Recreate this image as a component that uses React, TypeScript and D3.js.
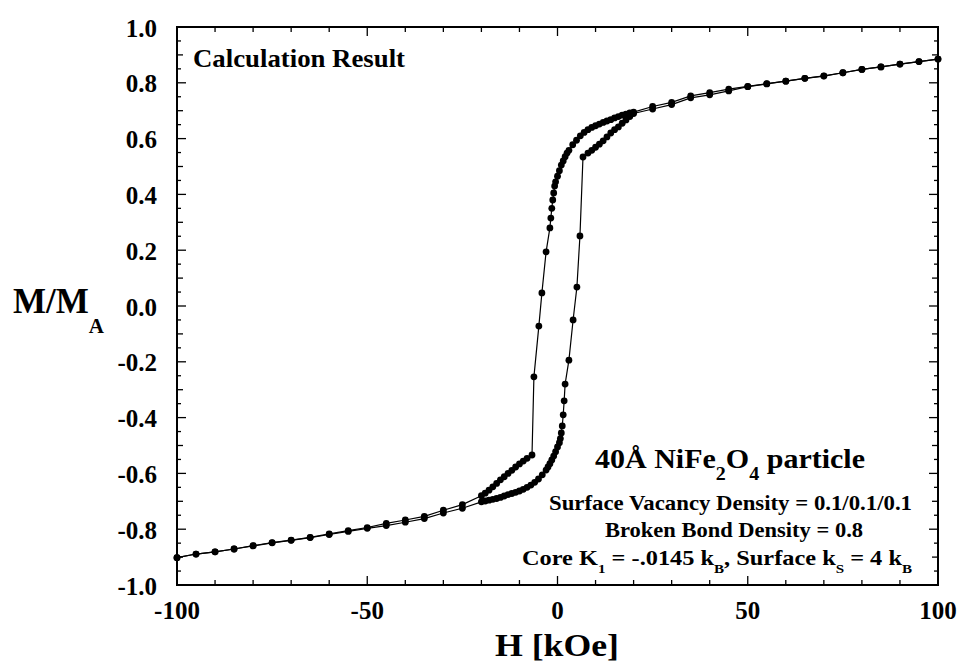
import React from 'react';
import * as d3 from 'd3';

// Descending branch (from +100 kOe to -100 kOe)
const descH = [
  100, 95, 90, 85, 80, 75, 70, 65, 60, 55, 50, 45, 40, 35, 30, 25,
  20, 19, 18, 17, 16, 15, 14, 13, 12, 11, 10, 9, 8, 7, 6, 5, 4, 3,
  2.5, 2, 1.5, 1, 0.5, 0, -0.5, -0.75, -1, -1.25, -1.5, -1.75, -2,
  -3, -4.1, -4.9, -6.2,
  -6.7, -8, -9, -10, -11, -12, -13, -14, -15, -16, -17, -18, -19, -20,
  -25, -30, -35, -40, -45, -50, -55, -60, -65, -70, -75, -80, -85, -90, -95, -100,
];
const descM = [
  0.885, 0.876, 0.867, 0.857, 0.848, 0.836, 0.825, 0.816, 0.806, 0.797, 0.787, 0.777, 0.765, 0.753, 0.73, 0.715,
  0.695, 0.692, 0.688, 0.684, 0.679, 0.674, 0.668, 0.663, 0.658, 0.652, 0.646, 0.64, 0.632, 0.622, 0.61, 0.594, 0.578, 0.558,
  0.548, 0.535, 0.52, 0.505, 0.485, 0.465, 0.445, 0.43, 0.405, 0.38, 0.35, 0.315, 0.28,
  0.194, 0.047, -0.072, -0.254,
  -0.534, -0.546, -0.556, -0.566, -0.577, -0.589, -0.6, -0.612, -0.623, -0.636, -0.648, -0.66, -0.671, -0.68,
  -0.712, -0.732, -0.754, -0.767, -0.779, -0.794, -0.805, -0.817, -0.829, -0.839, -0.848, -0.859, -0.871, -0.881, -0.889, -0.902,
];

// Ascending branch (from -100 kOe to +100 kOe)
const ascH = [
  -100, -95, -90, -85, -80, -75, -70, -65, -60, -55, -50, -45, -40, -35, -30, -25,
  -20, -19, -18, -17, -16, -15, -14, -13, -12, -11, -10, -9, -8, -7, -6, -5, -4, -3,
  -2.5, -2, -1.5, -1, -0.5, 0, 0.5, 0.75, 1, 1.25, 1.5, 1.75, 2,
  3, 4.1, 5.1, 5.9,
  6.7, 8, 9, 10, 11, 12, 13, 14, 15, 16, 17, 18, 19, 20,
  25, 30, 35, 40, 45, 50, 55, 60, 65, 70, 75, 80, 85, 90, 95, 100,
];
const ascM = [
  -0.902, -0.889, -0.881, -0.871, -0.86, -0.849, -0.84, -0.83, -0.819, -0.808, -0.797, -0.787, -0.775, -0.762, -0.742, -0.725,
  -0.702, -0.699, -0.696, -0.693, -0.69, -0.686, -0.681, -0.676, -0.672, -0.668, -0.663, -0.657, -0.65, -0.642, -0.632, -0.62, -0.605, -0.588,
  -0.577, -0.565, -0.552, -0.538, -0.522, -0.505, -0.49, -0.475, -0.455, -0.43, -0.39, -0.34, -0.28,
  -0.194, -0.05, 0.068, 0.251,
  0.534, 0.548, 0.558, 0.569, 0.58, 0.592, 0.606, 0.62, 0.632, 0.642, 0.655, 0.667, 0.679, 0.69,
  0.706, 0.722, 0.746, 0.757, 0.771, 0.786, 0.796, 0.806, 0.816, 0.824, 0.836, 0.848, 0.857, 0.867, 0.876, 0.885,
];

const xTickValues = [-100, -50, 0, 50, 100];
const xTickLabels = ['-100', '-50', '0', '50', '100'];
const yTickValues = [-1, -0.8, -0.6, -0.4, -0.2, 0, 0.2, 0.4, 0.6, 0.8, 1];
const yTickLabels = ['-1.0', '-0.8', '-0.6', '-0.4', '-0.2', '0.0', '0.2', '0.4', '0.6', '0.8', '1.0'];

const FONT = '"Liberation Serif", "Times New Roman", serif';

export default function App() {
  const W = 961;
  const H = 664;
  const left = 177, right = 938, top = 27, bottom = 585;
  const x = d3.scaleLinear().domain([-100, 100]).range([left, right]);
  const y = d3.scaleLinear().domain([-1, 1]).range([bottom, top]);
  const line = d3.line<[number, number]>().x((d) => x(d[0])).y((d) => y(d[1]));
  const desc: [number, number][] = descH.map((h, i) => [h, descM[i]]);
  const asc: [number, number][] = ascH.map((h, i) => [h, ascM[i]]);

  const xMinor = d3.range(-100, 100.001, 10);
  const yMinor = d3.range(-20, 21, 1).map((k) => k * 0.05);

  const xTickLen = (v: number) => (Math.abs(v % 50) < 1e-6 ? 9 : 5);
  const yTickLen = (v: number) => {
    const k = Math.round(v * 20);
    if (k % 4 === 0) return 9;
    if (k % 2 === 0) return 6;
    return 4;
  };

  return (
    <svg width={W} height={H} style={{ position: 'absolute', left: 0, top: 0, background: '#fff' }}
      fontFamily={FONT} fontWeight="bold">
      <rect x={0} y={0} width={W} height={H} fill="#fff" />
      {/* ticks */}
      <g stroke="#000" strokeWidth={1.3}>
        {xMinor.map((v, i) => (
          <g key={'xt' + i}>
            <line x1={x(v)} x2={x(v)} y1={bottom} y2={bottom - xTickLen(v)} />
            <line x1={x(v)} x2={x(v)} y1={top} y2={top + xTickLen(v)} />
          </g>
        ))}
        {yMinor.map((v, i) => (
          <g key={'yt' + i}>
            <line x1={left} x2={left + yTickLen(v)} y1={y(v)} y2={y(v)} />
            <line x1={right} x2={right - yTickLen(v)} y1={y(v)} y2={y(v)} />
          </g>
        ))}
      </g>
      {/* frame */}
      <rect x={left} y={top} width={right - left} height={bottom - top} fill="none" stroke="#000" strokeWidth={2} />

      {/* tick labels */}
      {xTickValues.map((v, i) => (
        <text key={'xl' + i} x={x(v)} y={619} textAnchor="middle" fontSize={25}>{xTickLabels[i]}</text>
      ))}
      {yTickValues.map((v, i) => (
        <text key={'yl' + i} x={157} y={y(v) + 9.5} textAnchor="end" fontSize={25}>{yTickLabels[i]}</text>
      ))}

      {/* axis titles */}
      <text x={557} y={656} textAnchor="middle" fontSize={32} textLength={124} lengthAdjust="spacingAndGlyphs">H [kOe]</text>
      <text x={13} y={313} fontSize={35}>
        M/M<tspan fontSize={21} dy={20}>A</tspan>
      </text>

      {/* data */}
      <path d={line(desc) || ''} fill="none" stroke="#000" strokeWidth={1.2} />
      <path d={line(asc) || ''} fill="none" stroke="#000" strokeWidth={1.2} />
      {desc.map((d, i) => (
        <circle key={'dm' + i} cx={x(d[0])} cy={y(d[1])} r={3.4} fill="#000" />
      ))}
      {asc.map((d, i) => (
        <circle key={'am' + i} cx={x(d[0])} cy={y(d[1])} r={3.4} fill="#000" />
      ))}

      {/* annotations */}
      <text x={193} y={67} fontSize={26} textLength={212} lengthAdjust="spacingAndGlyphs">Calculation Result</text>
      <text x={595} y={468} fontSize={27} textLength={270} lengthAdjust="spacingAndGlyphs">
        40Å NiFe<tspan fontSize={18} dy={12}>2</tspan><tspan dy={-12}>O</tspan><tspan fontSize={18} dy={12}>4</tspan><tspan dy={-12}> particle</tspan>
      </text>
      <text x={549} y={510} fontSize={21} textLength={363} lengthAdjust="spacingAndGlyphs">Surface Vacancy Density = 0.1/0.1/0.1</text>
      <text x={605} y={537} fontSize={21} textLength={258} lengthAdjust="spacingAndGlyphs">Broken Bond Density = 0.8</text>
      <text x={522} y={565} fontSize={21} textLength={390} lengthAdjust="spacingAndGlyphs">
        Core K<tspan fontSize={13} dy={8}>1</tspan><tspan dy={-8}> = -.0145 k</tspan><tspan fontSize={13} dy={8}>B</tspan><tspan dy={-8}>, Surface k</tspan><tspan fontSize={13} dy={8}>S</tspan><tspan dy={-8}> = 4 k</tspan><tspan fontSize={13} dy={8}>B</tspan>
      </text>
    </svg>
  );
}
